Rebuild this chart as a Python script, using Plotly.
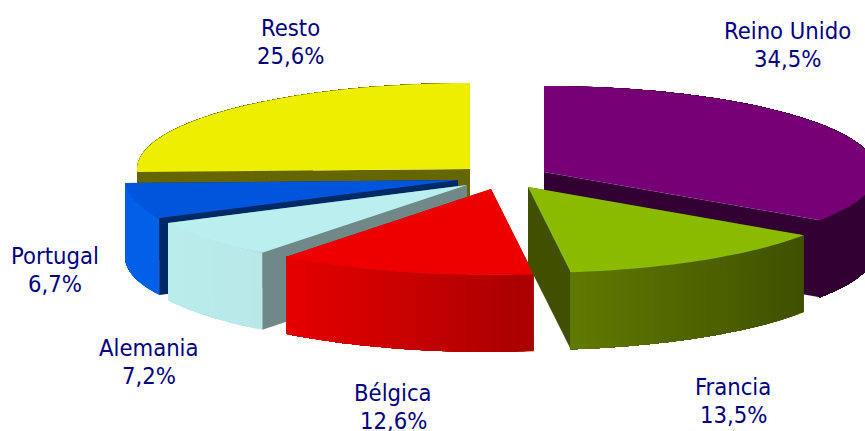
import math
import plotly.graph_objects as go

# --- data -----------------------------------------------------------------
categories = ["Reino Unido", "Francia", "Bélgica", "Alemania", "Portugal", "Resto"]
values = [34.5, 13.5, 12.6, 7.2, 6.7, 25.6]

# --- styling --------------------------------------------------------------
apex_x = [544, 528, 491, 467, 458, 470]
apex_y = [172, 187, 189, 185, 180, 169]
top_colors = ["#770077", "#8abb00", "#ee0000", "#bbeeee", "#0055dd", "#eeee00"]
wall_colors = ["#330033", "#405000", "#aa0000", "#708888", "#002a66", "#666600"]
rim_left = ["#330033", "#617a00", "#e60000", "#bbecec", "#0060e8", "#666600"]
rim_right = ["#330033", "#3f5000", "#a80000", "#b8e8e8", "#0060e8", "#666600"]
label_x = [787, 733, 393, 149, 55, 290]
label_y = [45, 401, 407, 362, 270, 42]
draw_order = [5, 0, 4, 3, 2, 1]

RX, RY, DEPTH = 333, 86, 77
TEXT = "#000080"
FONT = dict(family="DejaVu Sans Condensed, DejaVu Sans", size=23.6, color=TEXT)


def mix(c1, c2, t):
    a = [int(c1[i:i + 2], 16) for i in (1, 3, 5)]
    b = [int(c2[i:i + 2], 16) for i in (1, 3, 5)]
    return "#%02x%02x%02x" % tuple(round(p + (q - p) * t) for p, q in zip(a, b))


def poly(fig, xs, ys, color):
    fig.add_trace(go.Scatter(
        x=xs + xs[:1], y=ys + ys[:1], mode="none", fill="toself",
        fillcolor=color, hoverinfo="skip", showlegend=False))


def pt(cx, cy, ang):
    return cx + RX * math.sin(ang), cy - RY * math.cos(ang)


fig = go.Figure()
total = sum(values)
starts = []
acc = 0.0
for v in values:
    starts.append(acc)
    acc += v

for i in draw_order:
    cx, cy = apex_x[i], apex_y[i]
    a0 = 2 * math.pi * starts[i] / total
    a1 = 2 * math.pi * (starts[i] + values[i]) / total
    n = max(8, int(values[i] * 2.5))
    angs = [a0 + (a1 - a0) * k / n for k in range(n + 1)]
    arc = [pt(cx, cy, a) for a in angs]

    # side walls of the cut
    for (ex, ey) in (arc[0], arc[-1]):
        poly(fig, [cx, ex, ex, cx], [cy, ey, ey + DEPTH, cy + DEPTH], wall_colors[i])

    # outer rim: painted so each band overlaps the next, leaving no seams
    xmin = min(p[0] for p in arc)
    xmax = max(p[0] for p in arc)
    for k in range(n):
        x0, y0 = arc[k]
        x1, y1 = arc[k + 1]
        t = ((x0 + x1) / 2 - xmin) / max(xmax - xmin, 1)
        rest = arc[k:]
        xs = [p[0] for p in rest] + [p[0] for p in reversed(rest)]
        ys = [p[1] for p in rest] + [p[1] + DEPTH for p in reversed(rest)]
        poly(fig, xs, ys, mix(rim_left[i], rim_right[i], t))

    # top face
    poly(fig, [cx] + [p[0] for p in arc], [cy] + [p[1] for p in arc], top_colors[i])

annotations = []
for i in range(len(categories)):
    annotations.append(dict(x=label_x[i], y=label_y[i] - 14, xref="x", yref="y",
                            showarrow=False, text=categories[i], font=FONT))
    annotations.append(dict(x=label_x[i], y=label_y[i] + 14, xref="x", yref="y",
                            showarrow=False, text=str(values[i]).replace(".", ",") + "%", font=FONT))

fig.update_layout(
    width=865, height=431, margin=dict(l=0, r=0, t=0, b=0),
    paper_bgcolor="white", plot_bgcolor="white", showlegend=False,
    annotations=annotations,
    xaxis=dict(range=[0, 865], visible=False, fixedrange=True),
    yaxis=dict(range=[431, 0], visible=False, fixedrange=True),
)
fig.write_html("out.html", config={"displayModeBar": False},
               post_script="document.body.style.margin='0';document.documentElement.style.overflow='hidden';")
